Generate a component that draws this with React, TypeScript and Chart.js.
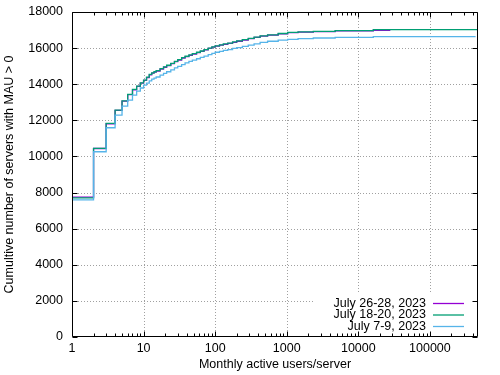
import React, { useEffect, useRef } from 'react';
import { Chart, registerables } from 'chart.js';

Chart.register(...registerables);

// Monthly active users per server (step break points)
const xBreaks = [1, 2, 3, 4, 5, 6, 7, 8, 9, 10, 11, 12, 13, 14, 15, 17, 19, 21, 24, 27, 30, 34, 38, 43, 48, 55, 62, 70, 80, 90, 100, 115, 130, 150, 175, 200, 240, 290, 350, 425, 540, 760, 1030, 1440, 2350, 4750, 16200];

// Cumulative servers, July 26-28, 2023
const julyLate = [7750, 10440, 11810, 12550, 13060, 13420, 13690, 13880, 14060, 14210, 14370, 14520, 14610, 14670, 14730, 14840, 14940, 15030, 15140, 15250, 15340, 15450, 15530, 15600, 15670, 15750, 15820, 15900, 15980, 16050, 16105, 16160, 16210, 16260, 16320, 16380, 16450, 16520, 16590, 16660, 16715, 16795, 16855, 16885, 16915, 16955, 16990];
// Cumulative servers, July 18-20, 2023
const julyMid = [7700, 10450, 11830, 12570, 13080, 13440, 13710, 13900, 14080, 14230, 14390, 14540, 14630, 14690, 14750, 14860, 14960, 15050, 15160, 15270, 15360, 15470, 15550, 15620, 15690, 15770, 15840, 15920, 16000, 16070, 16125, 16180, 16230, 16280, 16340, 16400, 16470, 16540, 16610, 16680, 16730, 16810, 16870, 16900, 16930, 16970, 17020];
// Cumulative servers, July 7-9, 2023
const julyEarly = [7590, 10260, 11590, 12290, 12790, 13120, 13400, 13620, 13790, 13950, 14060, 14190, 14280, 14340, 14400, 14500, 14600, 14690, 14800, 14900, 14990, 15090, 15185, 15260, 15330, 15410, 15490, 15560, 15640, 15710, 15770, 15820, 15870, 15920, 15980, 16030, 16100, 16170, 16240, 16320, 16380, 16440, 16480, 16520, 16560, 16600, 16640];

// Last x reached by each series (largest server)
const seriesEndX = [28000, 470000, 435000];
const seriesLabels = ['July 26-28, 2023', 'July 18-20, 2023', 'July 7-9, 2023'];
const seriesColors = ['#9400d3', '#009e73', '#56b4e9'];

const xTickValues = [1, 10, 100, 1000, 10000, 100000];
const yTickValues = [0, 2000, 4000, 6000, 8000, 10000, 12000, 14000, 16000, 18000];

const FONT = "'Liberation Sans', Arial, sans-serif";

function buildSeries(values: number[], endX: number) {
  const pts = xBreaks.map((x, i) => ({ x, y: values[i] }));
  pts.push({ x: endX, y: values[values.length - 1] });
  return pts;
}

const frame = {
  id: 'gnuplotFrame',
  beforeDatasetsDraw(chart: any) {
    const { ctx, chartArea: a, scales } = chart;
    const xs = scales.x, ys = scales.y;
    const keyLeft = 313, keyTop = 292;
    ctx.save();
    ctx.strokeStyle = '#a0a0a0';
    ctx.lineWidth = 1;
    ctx.setLineDash([1, 2]);
    for (const v of yTickValues) {
      if (v === 0 || v === 18000) continue;
      const y = Math.round(ys.getPixelForValue(v)) + 0.5;
      const xEnd = y > keyTop ? keyLeft : a.right;
      ctx.beginPath();
      ctx.moveTo(a.left, y);
      ctx.lineTo(xEnd, y);
      ctx.stroke();
    }
    for (const v of xTickValues) {
      if (v === 1) continue;
      const x = Math.round(xs.getPixelForValue(v)) + 0.5;
      const yEnd = x > keyLeft ? keyTop : a.bottom;
      ctx.beginPath();
      ctx.moveTo(x, a.top);
      ctx.lineTo(x, yEnd);
      ctx.stroke();
    }
    ctx.restore();
  },
  afterDatasetsDraw(chart: any) {
    const { ctx, chartArea: a, scales } = chart;
    const xs = scales.x, ys = scales.y;
    ctx.save();
    ctx.setLineDash([]);
    ctx.strokeStyle = '#000';
    ctx.lineWidth = 1;
    const L = Math.round(a.left) + 0.5, R = Math.round(a.right) - 0.5;
    const T = Math.round(a.top) + 0.5, B = Math.round(a.bottom) - 0.5;
    ctx.beginPath();
    ctx.rect(L, T, R - L, B - T);
    ctx.stroke();
    ctx.beginPath();
    for (const v of yTickValues) {
      const y = Math.round(ys.getPixelForValue(v)) + 0.5;
      ctx.moveTo(L, y); ctx.lineTo(L + 5, y);
      ctx.moveTo(R, y); ctx.lineTo(R - 5, y);
    }
    for (let d = 1; d <= 100000; d *= 10) {
      for (let m = 1; m <= 9; m++) {
        const v = d * m;
        if (v > xs.max) continue;
        const x = Math.round(xs.getPixelForValue(v)) + 0.5;
        const len = m === 1 ? 5 : 3;
        ctx.moveTo(x, B); ctx.lineTo(x, B - len);
        ctx.moveTo(x, T); ctx.lineTo(x, T + len);
      }
    }
    ctx.stroke();

    // key
    ctx.font = `12.5px ${FONT}`;
    ctx.textAlign = 'right';
    ctx.textBaseline = 'middle';
    ctx.fillStyle = '#000';
    const rows = [303.5, 315, 326.5];
    seriesLabels.forEach((label, i) => {
      ctx.fillText(label, 426, rows[i]);
      ctx.strokeStyle = seriesColors[i];
      ctx.lineWidth = 1.3;
      ctx.beginPath();
      ctx.moveTo(433, rows[i]);
      ctx.lineTo(464, rows[i]);
      ctx.stroke();
    });
    ctx.restore();
  },
};

export default function App() {
  const ref = useRef<HTMLCanvasElement>(null);
  useEffect(() => {
    if (!ref.current) return;
    const seriesValues = [julyLate, julyMid, julyEarly];
    const chart = new Chart(ref.current, {
      type: 'line',
      data: {
        datasets: seriesValues.map((vals, i) => ({
          label: seriesLabels[i],
          data: buildSeries(vals, seriesEndX[i]),
          borderColor: seriesColors[i],
          backgroundColor: seriesColors[i],
          borderWidth: 1.3,
          pointRadius: 0,
          stepped: 'before' as const,
          fill: false,
          order: 3 - i,
        })),
      },
      options: {
        responsive: false,
        animation: false,
        layout: { padding: { top: 12, right: 22, left: 0, bottom: 0 } },
        plugins: { legend: { display: false }, tooltip: { enabled: false } },
        scales: {
          x: {
            type: 'logarithmic',
            min: 1,
            max: 470000,
            grid: { display: false, drawTicks: false },
            border: { display: false },
            afterBuildTicks: (s: any) => { s.ticks = xTickValues.map((v) => ({ value: v })); },
            afterFit: (s: any) => { s.height = 38; s.paddingLeft = 0; s.paddingRight = 0; },
            ticks: {
              autoSkip: false,
              maxRotation: 0,
              padding: 4,
              color: '#000',
              font: { family: FONT, size: 12.5 },
              callback: (v: any) => String(v),
            },
            title: {
              display: true,
              text: 'Monthly active users/server',
              color: '#000',
              font: { family: FONT, size: 12.5 },
              padding: { top: 0, bottom: 3 },
            },
          },
          y: {
            type: 'linear',
            min: 0,
            max: 18000,
            grid: { display: false, drawTicks: false },
            border: { display: false },
            afterBuildTicks: (s: any) => { s.ticks = yTickValues.map((v) => ({ value: v })); },
            afterFit: (s: any) => { s.width = 72; s.paddingTop = 0; s.paddingBottom = 0; },
            ticks: {
              autoSkip: false,
              padding: 9,
              color: '#000',
              font: { family: FONT, size: 12.5 },
              callback: (v: any) => String(v),
            },
            title: {
              display: true,
              text: 'Cumultive number of servers with MAU > 0',
              color: '#000',
              font: { family: FONT, size: 12.5 },
              padding: { top: 2.5, bottom: 0 },
            },
          },
        },
      },
      plugins: [frame],
    });
    return () => chart.destroy();
  }, []);
  return (
    <div style={{ position: 'absolute', left: 0, top: 0, width: 500, height: 375, background: '#fff' }}>
      <canvas ref={ref} width={500} height={375} style={{ display: 'block' }} />
    </div>
  );
}
